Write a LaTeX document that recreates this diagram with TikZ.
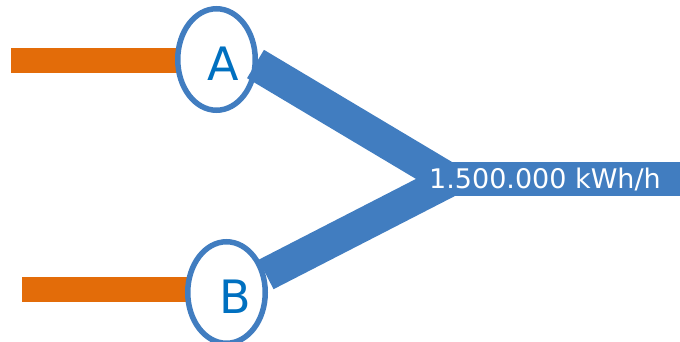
\documentclass[tikz,border=0pt]{standalone}
\usepackage{fontspec}
\setmainfont{DejaVu Sans}
\usetikzlibrary{shapes.geometric}
\definecolor{flowblue}{HTML}{417DC0}
\definecolor{letterblue}{HTML}{0070C0}
\definecolor{feedorange}{HTML}{E36C09}
\tikzset{
  feedbar/.style={fill=feedorange, draw=none},
  flowband/.style={draw=flowblue, line width=33pt, line cap=butt},
  station/.style={ellipse, draw=flowblue, line width=5.5pt, fill=white,
    minimum width=77.5pt, minimum height=101.5pt, inner sep=0pt},
  stationlabel/.style={text=letterblue, font=\fontsize{46}{46}\selectfont, inner sep=0pt, anchor=base},
  flowlabel/.style={text=white, font=\fontsize{27}{27}\selectfont, inner sep=0pt, anchor=base west}
}
\begin{document}
\begin{tikzpicture}[x=1pt,y=-1pt]
\useasboundingbox (0,0) rectangle (680,342);
\clip (0,0) rectangle (680,342);
% feeders
\fill[feedbar] (11,48) rectangle (178,73);
\fill[feedbar] (22,277) rectangle (189,302);
% stations
\node[station] (A) at (216.5,59.5) {};
\node[station] (B) at (226.5,292.5) {};
\node[stationlabel] (Alab) at (223.5,81) {A};
\node[stationlabel] (Blab) at (235.5,313) {B};
% flow
\coordinate (Aout) at (255.5,64);
\coordinate (Bout) at (266,274.5);
\coordinate (J) at (450,180);
\coordinate (E) at (680,179);
\fill[flowblue] (440,162) rectangle (680,196);
\draw[flowband] (Aout) -- (J);
\draw[flowband] (Bout) -- (J);
\node[flowlabel] (total) at (429,189) {1.500.000 kWh/h};
\end{tikzpicture}
\end{document}
